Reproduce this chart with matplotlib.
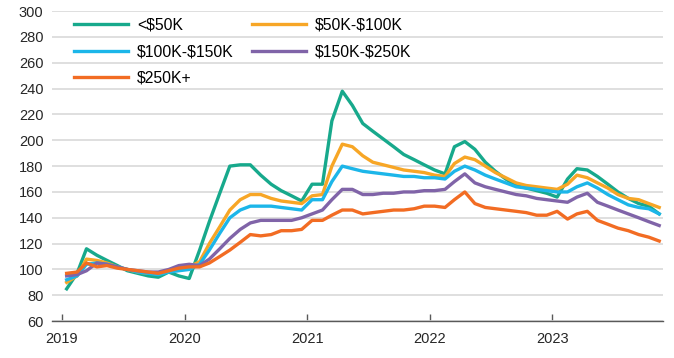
import numpy as np
import pandas as pd
import matplotlib
matplotlib.use("Agg")
import matplotlib.pyplot as plt

plt.rcParams['font.family'] = ['Liberation Sans', 'DejaVu Sans']

# monthly index values, Jan 2019 - Nov 2023
months = pd.date_range("2019-01-01", "2023-11-01", freq="MS") + pd.Timedelta(days=14)

lt50k = [85, 97, 116, 111, 107, 103, 99, 97, 95, 94, 98, 95,
         93, 115, 137, 159, 180, 181, 181, 173, 166, 161, 157, 153,
         166, 166, 215, 238, 227, 213, 207, 201, 195, 189, 185, 181,
         177, 174, 195, 199, 193, 183, 176, 170, 165, 163, 161, 159,
         156, 170, 178, 177, 172, 166, 160, 155, 151, 149, 143]
k50_100 = [90, 95, 108, 107, 105, 102, 100, 98, 97, 97, 99, 101,
           102, 106, 120, 133, 146, 154, 158, 158, 155, 153, 152, 151,
           157, 158, 180, 197, 195, 188, 183, 181, 179, 177, 176, 175,
           173, 172, 182, 187, 185, 180, 175, 171, 167, 165, 164, 163,
           162, 166, 173, 171, 167, 163, 158, 155, 154, 151, 148]
k100_150 = [92, 95, 104, 105, 104, 102, 100, 98, 97, 96, 98, 99,
            100, 104, 115, 128, 140, 146, 149, 149, 149, 148, 147, 146,
            154, 154, 168, 180, 178, 176, 175, 174, 173, 172, 172, 171,
            171, 170, 176, 180, 177, 173, 170, 167, 164, 163, 162, 161,
            160, 160, 164, 167, 163, 158, 154, 150, 148, 147, 143]
k150_250 = [95, 96, 99, 105, 104, 102, 100, 99, 98, 98, 100, 103,
            104, 103, 108, 116, 124, 131, 136, 138, 138, 138, 138, 140,
            143, 146, 154, 162, 162, 158, 158, 159, 159, 160, 160, 161,
            161, 162, 168, 174, 167, 164, 162, 160, 158, 157, 155, 154,
            153, 152, 156, 159, 152, 149, 146, 143, 140, 137, 134]
k250_plus = [97, 98, 105, 102, 103, 101, 100, 99, 98, 97, 99, 101,
             102, 102, 105, 110, 115, 121, 127, 126, 127, 130, 130, 131,
             138, 138, 142, 146, 146, 143, 144, 145, 146, 146, 147, 149,
             149, 148, 154, 160, 151, 148, 147, 146, 145, 144, 142, 142,
             145, 139, 143, 145, 138, 135, 132, 130, 127, 125, 122]

labels = [r"<\$50K", r"\$50K-\$100K", r"\$100K-\$150K", r"\$150K-\$250K", r"\$250K+"]
colors = ["#17a98c", "#f7a626", "#1cb6e9", "#8064a8", "#f26c23"]
series = [lt50k, k50_100, k100_150, k150_250, k250_plus]

fig = plt.figure(figsize=(6.74, 3.58), dpi=100)
ax = fig.add_axes([0.077, 0.103, 0.907, 0.866])

lines = []
for vals, lab, col in zip(series, labels, colors):
    ln, = ax.plot(months, vals, color=col, lw=2.4, label=lab, solid_joinstyle="round")
    lines.append(ln)

ax.set_ylim(60, 300)
ax.set_yticks(range(60, 301, 20))
ax.set_xlim(pd.Timestamp("2018-12-02"), pd.Timestamp("2023-11-27"))
years = [pd.Timestamp(f"{y}-01-01") for y in range(2019, 2024)]
ax.set_xticks(years)
ax.set_xticklabels([str(y) for y in range(2019, 2024)])

ax.grid(axis="y", color="#d9d9d9", lw=1.2)
ax.set_axisbelow(True)
for s in ["top", "right", "left"]:
    ax.spines[s].set_visible(False)
ax.spines["bottom"].set_color("#595959")
ax.spines["bottom"].set_linewidth(1.0)
ax.tick_params(axis="y", length=0, labelsize=10.5, colors="#262626", pad=6)
ax.tick_params(axis="x", direction="in", length=5, width=1, color="#595959",
               labelsize=10.5, labelcolor="#262626", pad=8)

# row-wise legend order
order = [0, 2, 4, 1, 3]
ax.legend([lines[i] for i in order], [labels[i] for i in order],
          loc="upper left", ncol=2, frameon=False, fontsize=11.3,
          handlelength=3.45, handletextpad=0.57, columnspacing=1.15,
          labelspacing=0.74, bbox_to_anchor=(0.021, 1.01), borderaxespad=0.2)

fig.savefig("out.png", dpi=100)
